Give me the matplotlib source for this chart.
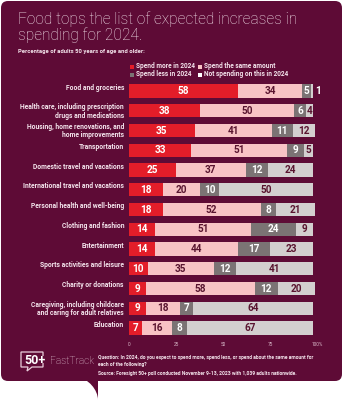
import matplotlib
matplotlib.use("Agg")
import matplotlib.pyplot as plt
from matplotlib.patches import FancyBboxPatch, PathPatch, Rectangle
from matplotlib.path import Path

plt.rcParams["font.family"] = ["Roboto", "DejaVu Sans"]

categories = [
    "Food and groceries",
    "Health care, including prescription\ndrugs and medications",
    "Housing, home renovations, and\nhome improvements",
    "Transportation",
    "Domestic travel and vacations",
    "International travel and vacations",
    "Personal health and well-being",
    "Clothing and fashion",
    "Entertainment",
    "Sports activities and leisure",
    "Charity or donations",
    "Caregiving, including childcare\nand caring for adult relatives",
    "Education",
]
spend_more = [58, 38, 35, 33, 25, 18, 18, 14, 14, 10, 9, 9, 7]
spend_same = [34, 50, 41, 51, 37, 20, 52, 51, 44, 35, 58, 18, 16]
spend_less = [5, 6, 11, 9, 12, 10, 8, 24, 17, 12, 12, 7, 8]
not_spending = [1, 4, 12, 5, 24, 50, 21, 9, 23, 41, 20, 64, 67]

series_names = ["Spend more in 2024", "Spend the same amount",
                "Spend less in 2024", "Not spending on this in 2024"]
x_ticks = [0, 25, 50, 75, 100]
x_tick_labels = ["0", "25", "50", "75", "100%"]

BG = "#5e0b36"
COLORS = ["#e31d29", "#f8c3c5", "#7b7374", "#d3cfcf"]
TEXT_ON = ["white", "#5a1530", "white", "#5a1530"]
LIGHT_TXT = "#f4e4ec"

W, H = 344, 400
fig = plt.figure(figsize=(W / 100, H / 100), dpi=100, facecolor="white")

# Full-figure canvas in pixel units for the panel, titles and footer
bg = fig.add_axes([0, 0, 1, 1], zorder=0)
bg.set_xlim(0, W)
bg.set_ylim(H, 0)
bg.axis("off")

panel = FancyBboxPatch((1, 1), 341, 380, boxstyle="round,pad=0,rounding_size=7",
                       facecolor=BG, edgecolor="none")
bg.add_patch(panel)
tail = Path([(78, 378), (88, 378), (98, 390), (98, 400), (98, 400), (98, 378), (78, 378)],
            [Path.MOVETO, Path.CURVE4, Path.CURVE4, Path.CURVE4, Path.LINETO, Path.LINETO, Path.CLOSEPOLY])
bg.add_patch(PathPatch(tail, facecolor=BG, edgecolor="none"))

for ty, line in [(24, "Food tops the list of expected increases in"), (40, "spending for 2024.")]:
    bg.text(18, ty, line, fontsize=11.2, fontweight="light", color=LIGHT_TXT,
            va="baseline", ha="left")
bg.text(18, 52, "Percentage of adults 50 years of age and older:", fontsize=4.2,
        fontweight="bold", color=LIGHT_TXT, va="center", ha="left")

# Legend
leg_pos = [(130, 66.5), (198, 66.5), (130, 74.5), (198, 74.5)]
for (lx, ly), name, col in zip(leg_pos, series_names, COLORS):
    sq_col = "white" if col == COLORS[3] else col
    bg.add_patch(Rectangle((lx, ly - 2), 4, 4, facecolor=sq_col, edgecolor="none"))
    bg.text(lx + 6, ly, name, fontsize=4.7, fontweight="bold", color=LIGHT_TXT,
            va="center", ha="left")

# Footer logo
logo = Path([(43, 356), (43, 352), (21, 352), (21, 367), (28, 367), (27, 371), (32, 367),
             (43, 367), (43, 363)],
            [Path.MOVETO, Path.LINETO, Path.LINETO, Path.LINETO, Path.LINETO, Path.LINETO,
             Path.LINETO, Path.LINETO, Path.LINETO])
bg.add_patch(PathPatch(logo, facecolor="none", edgecolor="#e9cfdc", lw=0.9))
bg.text(24, 360, "50+", fontsize=9, fontweight="bold", color="white", va="center", ha="left")
bg.text(50, 360.5, "FastTrack", fontsize=7.3, fontweight="light", color="#e9cfdc",
        va="center", ha="left")
bg.text(98, 361, "Question: In 2024, do you expect to spend more, spend less, or spend about the same amount for\neach of the following?",
        fontsize=3.6, fontweight="bold", color=LIGHT_TXT, va="center", ha="left", linespacing=1.3)
bg.text(98, 373, "Source: Foresight 50+ poll conducted November 9-13, 2023 with 1,039 adults nationwide.",
        fontsize=3.6, fontweight="bold", color=LIGHT_TXT, va="center", ha="left")

# Stacked bar chart
top_px, bot_px, row0, step = 80, 340, 91, 19.75
ax = fig.add_axes([129 / W, 1 - bot_px / H, (317 - 129) / W, (bot_px - top_px) / H], zorder=2)
ax.patch.set_alpha(0)
n = len(categories)
ax.set_ylim(12 + (bot_px - (row0 + 12 * step)) / step, -(row0 - top_px) / step)
ax.set_xlim(0, 100)
rows = list(range(n))
bar_h = 0.66

series = [spend_more, spend_same, spend_less, not_spending]
left = [0] * n
for vals, col, tcol in zip(series, COLORS, TEXT_ON):
    bars = ax.barh(rows, vals, left=left, height=bar_h, color=col, edgecolor="none")
    for r, (b, v) in enumerate(zip(bars, vals)):
        cx = b.get_x() + b.get_width() / 2
        if v < 3:
            ax.text(b.get_x() + b.get_width() + 1.2, r, str(v), fontsize=7.2,
                    fontweight="bold", color="white", ha="left", va="center")
        else:
            ax.text(cx, r, str(v), fontsize=7.2, fontweight="bold", color=tcol,
                    ha="center", va="center")
    left = [a + b for a, b in zip(left, vals)]

for r, cat in enumerate(categories):
    ax.annotate(cat, xy=(0, r - bar_h / 2), xytext=(-3.6, 0.6), textcoords="offset points",
                ha="right", va="top", fontsize=4.9, fontweight="bold", color=LIGHT_TXT,
                linespacing=1.05, multialignment="right")

ax.set_yticks([])
ax.set_xticks(x_ticks)
ax.set_xticklabels(x_tick_labels)
ax.tick_params(axis="x", length=0, pad=1.2, labelsize=3.4, labelcolor="#d9b9c9")
for s in ax.spines.values():
    s.set_visible(False)

fig.savefig("out.png", dpi=100, facecolor="white")
